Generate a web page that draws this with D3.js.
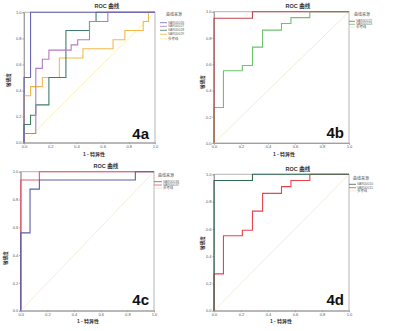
<!DOCTYPE html>
<html><head><meta charset="utf-8">
<script src="https://cdn.jsdelivr.net/npm/d3@7"></script>
<style>body{margin:0;background:#fff}svg{display:block}text{font-family:"Liberation Sans","Noto Sans CJK SC",sans-serif}</style>
</head><body>
<svg id="c" width="400" height="331"></svg>
<script>
// ---- data ----
const tickValues = [0, 0.2, 0.4, 0.6, 0.8, 1.0];
const tickLabels = ["0.0", "0.2", "0.4", "0.6", "0.8", "1.0"];
const titleText = "ROC 曲线";
const xLabel = "1 - 特异性";
const yLabel = "敏感度";
const legendTitle = "曲线来源";
const refName = "参考线";

const panelLabels = ["4a", "4b", "4c", "4d"];

const aNames = ["VAR00026", "VAR00027", "VAR00028", "VAR00029"];
const a26 = [[0,0],[0,0.5],[0.05,0.5],[0.05,1],[1,1]];
const a27 = [[0,0],[0,0.07],[0.09,0.07],[0.09,0.57],[0.14,0.57],[0.14,0.64],[0.19,0.64],[0.19,0.71],[0.36,0.71],[0.36,0.75],[0.41,0.75],[0.41,0.79],[0.5,0.79],[0.5,0.93],[0.64,0.93],[0.64,1],[1,1]];
const a28 = [[0,0],[0,0.14],[0.05,0.14],[0.05,0.21],[0.09,0.21],[0.09,0.29],[0.19,0.29],[0.19,0.5],[0.32,0.5],[0.32,0.86],[0.5,0.86],[0.5,0.93],[0.55,0.93],[0.55,1],[1,1]];
const a29 = [[0,0],[0,0.36],[0.05,0.36],[0.05,0.43],[0.14,0.43],[0.14,0.5],[0.27,0.5],[0.27,0.65],[0.45,0.65],[0.45,0.72],[0.68,0.72],[0.68,0.79],[0.77,0.79],[0.77,0.86],[0.91,0.86],[0.91,0.93],[0.95,0.93],[0.95,1],[1,1]];

const bNames = ["VAR00022", "VAR00023"];
const b22 = [[0,0],[0,0.95],[0.285,0.95],[0.285,1],[1,1]];
const b23 = [[0,0],[0,0.27],[0.07,0.27],[0.07,0.55],[0.21,0.55],[0.21,0.59],[0.285,0.59],[0.285,0.73],[0.36,0.73],[0.36,0.86],[0.5,0.86],[0.5,0.91],[0.57,0.91],[0.57,0.955],[0.71,0.955],[0.71,1],[1,1]];

const cNames = ["VAR00036", "VAR00037"];
const c36 = [[0,0],[0,0.56],[0.07,0.56],[0.07,0.875],[0.14,0.875],[0.14,0.94],[0.86,0.94],[0.86,1],[1,1]];
const c37 = [[0,0],[0,0.94],[0.14,0.94],[0.14,1],[1,1]];

const dNames = ["VAR00010", "VAR00011"];
const d10 = [[0,0],[0,0.955],[0.285,0.955],[0.285,1],[1,1]];
const d11 = [[0,0],[0,0.27],[0.07,0.27],[0.07,0.55],[0.21,0.55],[0.21,0.59],[0.285,0.59],[0.285,0.73],[0.36,0.73],[0.36,0.86],[0.5,0.86],[0.5,0.91],[0.57,0.91],[0.57,0.955],[0.71,0.955],[0.71,1],[1,1]];

const refLine = [[0,0],[1,1]];

// ---- layout/styles ----
const panels = [
  {box:[24,12.3,155,142.7], series:[a26,a27,a28,a29], names:aNames, colors:["#6a64b4","#b679c9","#3f7e64","#f4b94a"], ref:"#f6efb4",
   title:[107,8], ylab:[9,80], xlab:[94,156], leg:{tx:166,ty:16,x0:160,x1:167,tx2:168,ys:[22.7,26.3,30.3,34.3,38.7]}, lab:[149,139]},
  {box:[214,11.7,349,143], series:[b22,b23], names:bNames, colors:["#c0484c","#6cc46c"], ref:"#ede7c9",
   title:[298,7.5], ylab:[203,82], xlab:[284,156], leg:{tx:354,ty:15.5,x0:349,x1:355,tx2:356,ys:[21.3,24.3,27.3]}, lab:[344,138]},
  {box:[20.7,171.7,154,310.7], series:[c36,c37], names:cNames, colors:["#5a5ea8","#e8586a"], ref:"#f3e6d0",
   title:[106,168], ylab:[6,258], xlab:[88,323], leg:{tx:158,ty:176.5,x0:154,x1:162,tx2:163,ys:[181.7,185,188.3]}, lab:[149,305]},
  {box:[214,174.3,349,310.7], series:[d10,d11], names:dNames, colors:["#2f6b50","#e8424e"], ref:"#efe9cf",
   title:[298,171], ylab:[203,243], xlab:[281,323], leg:{tx:353,ty:179.5,x0:349,x1:356,tx2:357,ys:[184.3,187.7,191]}, lab:[344,305]}
];

const svg = d3.select("#c");

panels.forEach((p, i) => {
  const [l, t, r, b] = p.box;
  const x = d3.scaleLinear().domain([0,1]).range([l, r]);
  const y = d3.scaleLinear().domain([0,1]).range([b, t]);
  const g = svg.append("g");

  g.append("rect").attr("x", l).attr("y", t).attr("width", r - l).attr("height", b - t)
    .attr("fill", "none").attr("stroke", "#b4b4b4").attr("stroke-width", 1);

  const xa = d3.axisBottom(x).tickValues(tickValues).tickFormat((d, k) => tickLabels[k]).tickSize(1.5).tickPadding(1);
  const ya = d3.axisLeft(y).tickValues(tickValues).tickFormat((d, k) => tickLabels[k]).tickSize(1.5).tickPadding(1);
  const gx = g.append("g").attr("transform", `translate(0,${b})`).call(xa);
  const gy = g.append("g").attr("transform", `translate(${l},0)`).call(ya);
  [gx, gy].forEach(ax => {
    ax.select(".domain").attr("stroke", "#a0a0a0");
    ax.selectAll(".tick line").attr("stroke", "#a0a0a0");
    ax.selectAll(".tick text").attr("font-size", 4).attr("fill", "#555");
  });

  const line = d3.line().x(d => x(d[0])).y(d => y(d[1]));

  g.append("path").datum(refLine).attr("d", line).attr("fill", "none").attr("stroke", p.ref).attr("stroke-width", 0.8);

  p.series.map((s, k) => [s, k]).reverse().forEach(([s, k]) => {
    g.append("path").datum(s).attr("d", line).attr("fill", "none")
      .attr("stroke", p.colors[k]).attr("stroke-width", 1.1);
  });

  g.append("text").attr("x", p.title[0]).attr("y", p.title[1]).attr("text-anchor", "middle")
    .attr("font-size", 5.5).attr("font-weight", "bold").attr("fill", "#333").text(titleText);

  g.append("text").attr("transform", `translate(${p.ylab[0]},${p.ylab[1]}) rotate(-90)`)
    .attr("text-anchor", "middle").attr("dominant-baseline", "middle")
    .attr("font-size", 4.5).attr("font-weight", "bold").attr("fill", "#333").text(yLabel);

  g.append("text").attr("x", p.xlab[0]).attr("y", p.xlab[1]).attr("text-anchor", "middle")
    .attr("font-size", 5).attr("font-weight", "bold").attr("fill", "#333").text(xLabel);

  const lg = p.leg;
  g.append("text").attr("x", lg.tx).attr("y", lg.ty).attr("font-size", 4).attr("fill", "#555").text(legendTitle);
  const names = p.names.concat([refName]);
  const cols = p.colors.concat([p.ref]);
  names.forEach((n, k) => {
    const yy = lg.ys[k];
    g.append("line").attr("x1", lg.x0).attr("x2", lg.x1).attr("y1", yy).attr("y2", yy)
      .attr("stroke", cols[k]).attr("stroke-width", 0.8);
    g.append("text").attr("x", lg.tx2).attr("y", yy).attr("dominant-baseline", "middle")
      .attr("font-size", 3.4).attr("fill", "#666").text(n);
  });

  g.append("text").attr("x", p.lab[0]).attr("y", p.lab[1]).attr("text-anchor", "end")
    .attr("font-size", 15).attr("font-weight", "bold").attr("fill", "#111")
    .attr("font-family", "Liberation Sans, Arial, sans-serif").text(panelLabels[i]);
});
</script>
</body></html>
